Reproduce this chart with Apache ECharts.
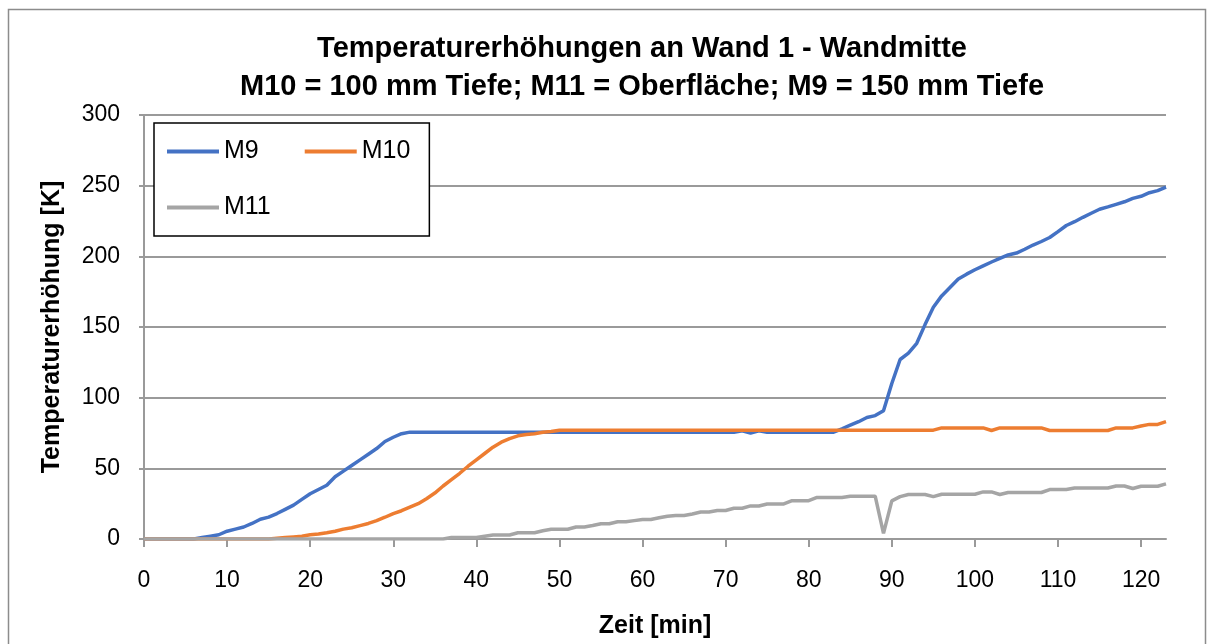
<!DOCTYPE html>
<html>
<head>
<meta charset="utf-8">
<script src="https://cdn.jsdelivr.net/npm/echarts@6/dist/echarts.min.js"></script>
<style>
  html, body { margin: 0; padding: 0; background: #fff; }
  #chart { width: 1210px; height: 644px; }
</style>
</head>
<body>
<div id="chart"></div>
<script>
// Zeit in Minuten, 0..123
const minutes = Array.from({ length: 124 }, (_, i) => String(i));

// M9 = 150 mm Tiefe
const m9 = [
  0, 0, 0, 0, 0, 0, 0, 1, 2, 3,
  5.5, 7, 8.5, 11, 14, 15.5, 18, 21, 24, 28,
  32, 35, 38, 44, 48, 52, 56, 60, 64, 69,
  72, 74.5, 75.6, 75.6, 75.6, 75.6, 75.6, 75.6, 75.6, 75.6,
  75.6, 75.6, 75.6, 75.6, 75.6, 75.6, 75.6, 75.6, 75.6, 75.6,
  75.6, 75.6, 75.6, 75.6, 75.6, 75.6, 75.6, 75.6, 75.6, 75.6,
  75.6, 75.6, 75.6, 75.6, 75.6, 75.6, 75.6, 75.6, 75.6, 75.6,
  75.6, 75.6, 76.6, 75, 76.6, 75.6, 75.6, 75.6, 75.6, 75.6,
  75.6, 75.6, 75.6, 75.6, 78, 80.5, 83, 86, 87.3, 90.8,
  110, 127, 131.5, 138.5, 151.7, 164, 172, 178, 184, 187.4,
  190.5, 193.3, 196, 198.5, 201, 202.3, 205, 208, 210.5, 213.3,
  217.5, 221.8, 224.5, 227.6, 230.5, 233.3, 235, 236.8, 238.6, 241,
  242.5, 245, 246.5, 249,
];

// M10 = 100 mm Tiefe
const m10 = [
  0, 0, 0, 0, 0, 0, 0, 0, 0, 0,
  0, 0, 0, 0, 0, 0, 0.5, 1, 1.5, 2,
  3, 3.5, 4.4, 5.5, 7, 8, 9.5, 11, 13, 15.4,
  18, 20, 22.5, 25, 28.5, 32.5, 37.5, 42, 46.5, 51.5,
  56, 60.5, 65, 68.5, 71, 73, 74, 74.5, 75.5, 76,
  77, 77, 77, 77, 77, 77, 77, 77, 77, 77,
  77, 77, 77, 77, 77, 77, 77, 77, 77, 77,
  77, 77, 77, 77, 77, 77, 77, 77, 77, 77,
  77, 77, 77, 77, 77, 77, 77, 77, 77, 77,
  77, 77, 77, 77, 77, 77, 78.6, 78.6, 78.6, 78.6,
  78.6, 78.6, 76.8, 78.6, 78.6, 78.6, 78.6, 78.6, 78.6, 76.8,
  76.8, 76.8, 76.8, 76.8, 76.8, 76.8, 76.8, 78.6, 78.6, 78.6,
  80, 81.1, 81.1, 83,
];

// M11 = Oberfläche
const m11 = [
  0, 0, 0, 0, 0, 0, 0, 0, 0, 0,
  0, 0, 0, 0, 0, 0, 0, 0, 0, 0,
  0, 0, 0, 0, 0, 0, 0, 0, 0, 0,
  0, 0, 0, 0, 0, 0, 0, 1, 1, 1,
  1, 2, 2.8, 2.8, 2.8, 4.4, 4.4, 4.4, 5.8, 6.9,
  6.9, 6.9, 8.5, 8.5, 9.5, 10.8, 10.8, 12.2, 12.2, 13,
  13.8, 13.8, 15, 16.1, 16.6, 16.6, 17.7, 19.1, 19.1, 20.2,
  20.2, 21.8, 21.8, 23.4, 23.4, 24.8, 24.8, 24.8, 27.1, 27.1,
  27.1, 29.4, 29.4, 29.4, 29.4, 30.3, 30.3, 30.3, 30.3, 4,
  27, 30, 31.5, 31.5, 31.5, 30, 31.7, 31.7, 31.7, 31.7,
  31.7, 33.3, 33.3, 31.5, 32.9, 32.9, 32.9, 32.9, 32.9, 35,
  35, 35, 36.1, 36.1, 36.1, 36.1, 36.1, 37.5, 37.5, 35.7,
  37.3, 37.3, 37.3, 39,
];

const seriesNames = ["M9", "M10", "M11"];
const seriesColors = ["#4472C4", "#ED7D31", "#A5A5A5"];

const font = "'Liberation Sans', Arial, sans-serif";
const gridColor = "#9a9a9a";

const chart = echarts.init(document.getElementById("chart"));

let series = [m9, m10, m11].map((values, i) => ({
  name: seriesNames[i],
  type: "line",
  data: values,
  symbol: "none",
  showSymbol: false,
  color: seriesColors[i],
  lineStyle: { width: 3.5, color: seriesColors[i] },
}));

const legendText = { fontFamily: font, fontSize: 25, color: "#000" };

let option = {
  animation: false,
  textStyle: { fontFamily: font, color: "#000" },
  title: {
    text: "Temperaturerhöhungen an Wand 1 - Wandmitte\nM10 = 100 mm Tiefe; M11 = Oberfläche; M9 = 150 mm Tiefe",
    left: 642,
    textAlign: "center",
    top: 30,
    padding: 0,
    textStyle: {
      fontFamily: font,
      fontSize: 29,
      fontWeight: "bold",
      lineHeight: 38,
      color: "#000",
    },
  },
  legend: [
    {
      // erste Zeile + Rahmen um die ganze Legende
      data: ["M9", "M10"],
      left: 154,
      top: 123,
      orient: "horizontal",
      icon: "rect",
      itemWidth: 52,
      itemHeight: 4,
      itemGap: 46,
      padding: [16, 19, 72, 13],
      borderColor: "#000",
      borderWidth: 1.5,
      backgroundColor: "#fff",
      textStyle: legendText,
    },
    {
      data: ["M11"],
      left: 167,
      top: 195,
      z: 10,
      orient: "horizontal",
      icon: "rect",
      itemWidth: 52,
      itemHeight: 4,
      padding: 0,
      textStyle: legendText,
    },
  ],
  grid: {
    left: 144,
    right: 44,
    top: 115,
    bottom: 94,
  },
  xAxis: {
    type: "category",
    data: minutes,
    boundaryGap: false,
    name: "Zeit [min]",
    nameLocation: "middle",
    nameGap: 75,
    nameTextStyle: { fontFamily: font, fontSize: 25, fontWeight: "bold", color: "#000" },
    axisLine: { lineStyle: { color: gridColor, width: 2 } },
    axisTick: { show: true, interval: 9, length: 8, lineStyle: { color: gridColor, width: 2 } },
    axisLabel: { interval: 9, fontSize: 23, color: "#000", margin: 30, fontFamily: font },
    splitLine: { show: false },
  },
  yAxis: {
    type: "value",
    min: 0,
    max: 300,
    interval: 50,
    name: "Temperaturerhöhung [K]",
    nameLocation: "middle",
    nameGap: 79,
    nameTextStyle: { fontFamily: font, fontSize: 25, fontWeight: "bold", color: "#000" },
    axisLine: { show: true, lineStyle: { color: gridColor, width: 2 } },
    axisTick: { show: true, length: 5, lineStyle: { color: gridColor, width: 2 } },
    axisLabel: { fontSize: 23, color: "#000", margin: 24, fontFamily: font },
    splitLine: { show: true, lineStyle: { color: gridColor, width: 2 } },
  },
  graphic: [
    {
      type: "rect",
      silent: true,
      z: -10,
      shape: { x: 8.5, y: 9.5, width: 1197, height: 650 },
      style: { fill: "none", stroke: "#8c8c8c", lineWidth: 1.5 },
    },
  ],
  series,
};

chart.setOption(option, true);
</script>
</body>
</html>
